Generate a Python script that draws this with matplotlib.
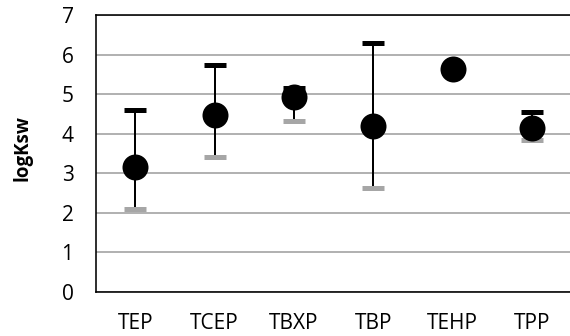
import numpy as np
import matplotlib
matplotlib.use("Agg")
import matplotlib.pyplot as plt

categories = ["TEP", "TCEP", "TBXP", "TBP", "TEHP", "TPP"]
mean_vals = [3.16, 4.47, 4.94, 4.20, 5.64, 4.15]
upper_vals = [4.61, 5.74, 5.17, 6.29, np.nan, 4.54]
lower_vals = [2.09, 3.41, 4.33, 2.63, np.nan, 3.84]
yticks = [0, 1, 2, 3, 4, 5, 6, 7]

plt.rcParams['font.family'] = ['Open Sans', 'DejaVu Sans']

fig = plt.figure(figsize=(5.7, 3.36), dpi=100)
ax = fig.add_axes([0.168, 0.1318, 0.8346, 0.8227])

x = np.arange(len(categories))
px = 0.72  # points per pixel

ax.vlines(x, lower_vals, upper_vals, colors='black', linewidth=2 * px, zorder=3)
ax.plot(x, lower_vals, linestyle='none', marker='_', markersize=22 * px,
        markeredgewidth=5 * px, color='#A6A6A6', zorder=3)
ax.plot(x, upper_vals, linestyle='none', marker='_', markersize=22 * px,
        markeredgewidth=5 * px, color='black', zorder=3)
ax.plot(x, mean_vals, linestyle='none', marker='o', markersize=26 * px,
        color='black', markeredgewidth=0, zorder=4)

ax.set_xlim(-0.5, len(categories) - 0.5)
ax.set_ylim(0, 7)
ax.set_yticks(yticks)
ax.set_xticks(x)
ax.set_xticklabels(categories)
ax.tick_params(axis='both', length=0, labelsize=15, colors='black')
ax.tick_params(axis='y', pad=16)
ax.tick_params(axis='x', pad=15)

ax.yaxis.grid(True, color='#A0A0A0', linewidth=1.6 * px)
ax.set_axisbelow(True)
for s in ['left', 'bottom', 'top']:
    ax.spines[s].set_color('black')
    ax.spines[s].set_linewidth(1.6 * px)
ax.spines['right'].set_visible(False)

fig.text(22 / 570, 1 - 148 / 336, "logKsw", rotation=90, fontsize=13.5,
         fontweight='bold', ha='center', va='center')

fig.savefig("out.png", dpi=100)
